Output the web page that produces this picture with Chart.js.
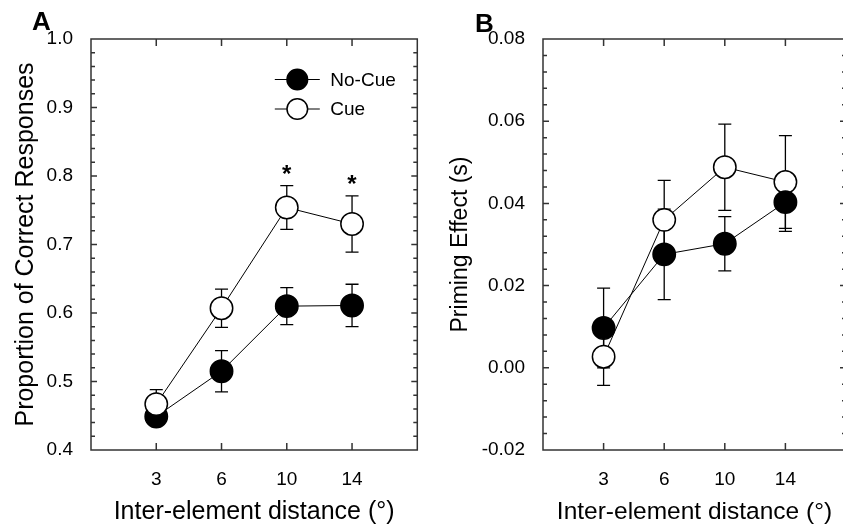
<!DOCTYPE html>
<html>
<head>
<meta charset="utf-8">
<script src="https://cdn.jsdelivr.net/npm/chart.js@4.4.1/dist/chart.umd.min.js"></script>
<style>
  html, body { margin: 0; padding: 0; background: #fff; overflow: hidden; width: 843px; height: 525px; }
  .panel { position: absolute; top: 0; }
  #wrapA { left: 0; }
  #wrapB { left: 430px; }
</style>
</head>
<body>
<div class="panel" id="wrapA"><canvas id="chartA" width="430" height="525"></canvas></div>
<div class="panel" id="wrapB"><canvas id="chartB" width="430" height="525"></canvas></div>
<script>
// ── Data ─────────────────────────────────────────────────────────────────────
const distances = ["3", "6", "10", "14"];

// Panel A: proportion of correct responses
const accNoCue    = [0.449, 0.515, 0.610, 0.611];
const accNoCueErr = [0.010, 0.030, 0.027, 0.031];
const accCue      = [0.467, 0.607, 0.754, 0.730];
const accCueErr   = [0.021, 0.028, 0.032, 0.041];
const accSig      = [false, false, true, true];

// Panel B: priming effect (s)
const primNoCue    = [0.0097, 0.0276, 0.0302, 0.0403];
const primNoCueErr = [0.0097, 0.0110, 0.0066, 0.0071];
const primCue      = [0.0027, 0.0360, 0.0488, 0.0452];
const primCueErr   = [0.0070, 0.0096, 0.0105, 0.0113];

const FONT = "'Liberation Sans', Arial, Helvetica, sans-serif";
const AXIS = "#333";

// ── Plugins ──────────────────────────────────────────────────────────────────
// box with inward ticks on all four sides (+ minor y ticks)
const framePlugin = {
  id: "frame",
  afterDraw(chart, args, opts) {
    const { ctx, chartArea: a, scales: { x, y } } = chart;
    ctx.save();
    ctx.strokeStyle = AXIS;
    ctx.lineWidth = 1.5;
    ctx.strokeRect(a.left, a.top, a.right - a.left, a.bottom - a.top);
    ctx.beginPath();
    x.ticks.forEach(t => {
      const px = x.getPixelForValue(t.value);
      ctx.moveTo(px, a.bottom); ctx.lineTo(px, a.bottom - 7);
      ctx.moveTo(px, a.top);    ctx.lineTo(px, a.top + 7);
    });
    const n = Math.round((y.max - y.min) / opts.minor);
    for (let i = 1; i < n; i++) {
      const py = y.getPixelForValue(y.min + i * opts.minor);
      const len = i % opts.per === 0 ? 6 : 4;
      ctx.moveTo(a.left, py);  ctx.lineTo(a.left + len, py);
      ctx.moveTo(a.right, py); ctx.lineTo(a.right - len, py);
    }
    ctx.stroke();
    ctx.restore();
  }
};

// vertical error bars, drawn before the markers so fills cover them
const errorBarPlugin = {
  id: "errbars",
  beforeDatasetsDraw(chart) {
    const { ctx, scales: { x, y } } = chart;
    ctx.save();
    ctx.strokeStyle = "#000";
    ctx.lineWidth = 1.3;
    chart.data.datasets.forEach(ds => {
      ds.data.forEach((p, i) => {
        const e = ds.errors[i];
        const px = x.getPixelForValue(p.x);
        const yHi = y.getPixelForValue(p.y + e);
        const yLo = y.getPixelForValue(p.y - e);
        ctx.beginPath();
        ctx.moveTo(px, yHi); ctx.lineTo(px, yLo);
        ctx.moveTo(px - 6.5, yHi); ctx.lineTo(px + 6.5, yHi);
        ctx.moveTo(px - 6.5, yLo); ctx.lineTo(px + 6.5, yLo);
        ctx.stroke();
      });
    });
    ctx.restore();
  }
};

// significance stars above the upper error bar
const starPlugin = {
  id: "stars",
  afterDatasetsDraw(chart, args, opts) {
    if (!opts.flags) return;
    const { ctx, scales: { x, y } } = chart;
    const ds = chart.data.datasets[opts.dataset];
    ctx.save();
    ctx.fillStyle = "#000";
    ctx.font = "bold 24px " + FONT;
    ctx.textAlign = "center";
    ctx.textBaseline = "alphabetic";
    opts.flags.forEach((f, i) => {
      if (!f) return;
      const p = ds.data[i];
      const px = x.getPixelForValue(p.x);
      const py = y.getPixelForValue(p.y + ds.errors[i]);
      ctx.fillText("*", px, py - 4);
    });
    ctx.restore();
  }
};

// legend: line through marker, label to the right
const legendPlugin = {
  id: "markerLegend",
  afterDraw(chart, args, opts) {
    if (!opts.show) return;
    const { ctx, chartArea: a } = chart;
    ctx.save();
    ctx.font = "19px " + FONT;
    ctx.textBaseline = "middle";
    ctx.fillStyle = "#000";
    opts.order.forEach((idx, k) => {
      const ds = chart.data.datasets[idx];
      const cx = a.right - 120, cy = a.top + 40.5 + k * 29.5;
      ctx.strokeStyle = "#000";
      ctx.lineWidth = 1;
      ctx.beginPath();
      ctx.moveTo(cx - 22.5, cy); ctx.lineTo(cx + 22.5, cy);
      ctx.stroke();
      ctx.beginPath();
      ctx.arc(cx, cy, 10.3, 0, Math.PI * 2);
      ctx.fillStyle = ds.pointBackgroundColor;
      ctx.fill();
      ctx.lineWidth = 1.5;
      ctx.stroke();
      ctx.fillStyle = "#000";
      ctx.fillText(ds.label, cx + 33, cy + 1);
    });
    ctx.restore();
  }
};

// bold panel letter
const panelLabelPlugin = {
  id: "panelLabel",
  afterDraw(chart, args, opts) {
    const { ctx } = chart;
    ctx.save();
    ctx.font = "bold 26px " + FONT;
    ctx.fillStyle = "#000";
    ctx.textBaseline = "alphabetic";
    ctx.fillText(opts.text, opts.x, opts.y);
    ctx.restore();
  }
};

// ── Chart builder ────────────────────────────────────────────────────────────
function series(label, values, errors, fill, order) {
  return {
    label,
    data: values.map((v, i) => ({ x: i, y: v })),
    errors,
    order,
    borderColor: "#000",
    borderWidth: 1,
    pointRadius: 11.2,
    pointHoverRadius: 11.2,
    pointBorderWidth: 1.5,
    pointBorderColor: "#000",
    pointBackgroundColor: fill,
    tension: 0,
  };
}

function makeChart(id, cfg) {
  return new Chart(document.getElementById(id), {
    type: "line",
    data: { datasets: cfg.datasets },
    options: {
      responsive: false,
      animation: false,
      layout: { padding: { left: 0, top: 39, right: cfg.padRight, bottom: 0 } },
      scales: {
        x: {
          type: "linear",
          min: -1, max: 4,
          grid: { display: false },
          border: { display: false },
          afterBuildTicks: s => { s.ticks = distances.map((d, i) => ({ value: i })); },
          afterFit: s => { s.height = 75; },
          ticks: {
            color: "#000",
            padding: 10,
            font: { family: FONT, size: 19 },
            callback: v => distances[v],
          },
          title: {
            display: true,
            text: "Inter-element distance (°)",
            color: "#000",
            font: { family: FONT, size: cfg.titleSizeX },
            padding: { top: 0, bottom: -2 },
          },
        },
        y: {
          min: cfg.yMin, max: cfg.yMax,
          grid: { display: false },
          border: { display: false },
          afterFit: s => { s.width = cfg.yWidth; },
          ticks: {
            stepSize: cfg.yStep,
            color: "#000",
            padding: 10,
            font: { family: FONT, size: 19 },
            callback: v => v.toFixed(cfg.yDigits),
          },
          title: {
            display: true,
            text: cfg.yTitle,
            color: "#000",
            font: { family: FONT, size: cfg.titleSizeY },
            padding: { top: cfg.yTitlePad, bottom: 0 },
          },
        },
      },
      plugins: {
        legend: { display: false },
        tooltip: { enabled: false },
        frame: { minor: cfg.yStep / 5, per: 5 },
        stars: cfg.stars || {},
        markerLegend: cfg.legend || {},
        panelLabel: cfg.panel,
      },
    },
    plugins: [framePlugin, errorBarPlugin, starPlugin, legendPlugin, panelLabelPlugin],
  });
}

// ── Panel A ──────────────────────────────────────────────────────────────────
makeChart("chartA", {
  datasets: [
    series("No-Cue", accNoCue, accNoCueErr, "#000", 1),
    series("Cue", accCue, accCueErr, "#fff", 0),
  ],
  padRight: 7,
  yWidth: 91,
  yMin: 0.4, yMax: 1.0, yStep: 0.1, yDigits: 1,
  yTitle: "Proportion of Correct Responses",
  yTitlePad: 11,
  titleSizeX: 25,
  titleSizeY: 25,
  stars: { flags: accSig, dataset: 1 },
  legend: { show: true, order: [0, 1] },
  panel: { text: "A", x: 32, y: 30 },
});

// ── Panel B ──────────────────────────────────────────────────────────────────
makeChart("chartB", {
  datasets: [
    series("No-Cue", primNoCue, primNoCueErr, "#000", 0),
    series("Cue", primCue, primCueErr, "#fff", 1),
  ],
  padRight: 14,
  yWidth: 113,
  yMin: -0.02, yMax: 0.08, yStep: 0.02, yDigits: 2,
  yTitle: "Priming Effect (s)",
  yTitlePad: 17,
  titleSizeX: 24.5,
  titleSizeY: 23,
  panel: { text: "B", x: 45, y: 32 },
});
</script>
</body>
</html>
